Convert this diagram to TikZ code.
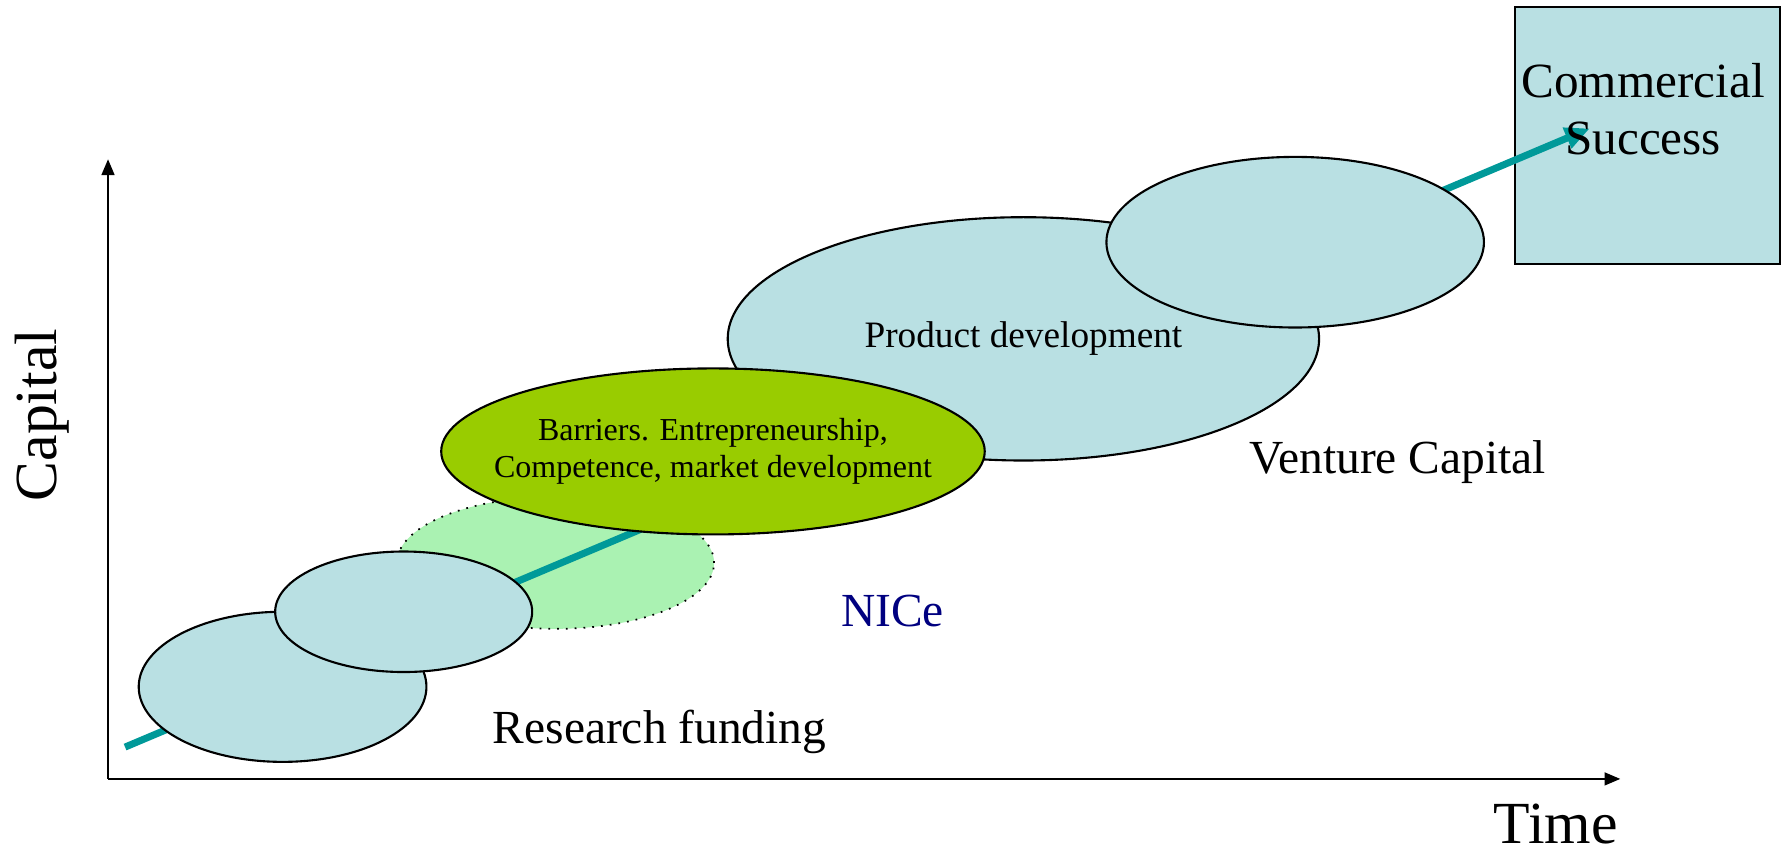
\documentclass[tikz,border=0pt]{standalone}
\usepackage{fontspec}
\setmainfont{Liberation Serif}
\usetikzlibrary{shapes.geometric,arrows.meta,positioning}
\definecolor{capblue}{HTML}{B9E0E3}
\definecolor{nicegreen}{HTML}{AAF2B2}
\definecolor{barrgreen}{HTML}{99CC00}
\definecolor{pathteal}{HTML}{009999}
\definecolor{nicenavy}{HTML}{000080}

\begin{document}
\begin{tikzpicture}[x=0.11371mm,y=-0.11371mm,
  bubble/.style={ellipse,draw,line width=0.6pt,fill=capblue,inner sep=0pt},
  axis/.style={line width=0.7pt,-{Triangle[length=4.5pt,width=3.6pt]}},
  lbl/.style={anchor=base,inner sep=0pt,font=\fontsize{13.5}{16}\selectfont}]
  \useasboundingbox (0,0) rectangle (1568,751);
  \draw[axis] (95,685) coordinate (o) -- (95,140) coordinate (ytop);
  \draw[axis] (o) -- (1425,685) coordinate (xend);
  \node[rotate=90,anchor=base,inner sep=0pt,font=\fontsize{17}{20}\selectfont] (cap) at (50,365) {Capital};
  \node[anchor=base,inner sep=0pt,font=\fontsize{17}{20}\selectfont] (time) at (1368,742) {Time};

  \node[draw,line width=0.6pt,fill=capblue,minimum width=26.49mm,minimum height=25.70mm,inner sep=0pt] (cs) at (1448.5,119) {};
  \node[ellipse,draw,dotted,line width=0.5pt,fill=nicegreen,minimum width=31.72mm,minimum height=13.19mm,inner sep=0pt] (nice) at (488.5,495) {};
  \coordinate (start) at (110,657);
  \coordinate (goal) at (1398,113);
  \draw[pathteal,line width=2pt,-{Triangle[length=7pt,width=6pt]}] (start) -- (goal);
  \node[bubble,minimum width=28.77mm,minimum height=15.01mm] (res1) at (248.5,604) {};
  \node[bubble,minimum width=25.70mm,minimum height=12.05mm] (res2) at (355,538) {};
  \node[bubble,minimum width=59.13mm,minimum height=24.33mm] (prod) at (900,298) {};
  \node[font=\fontsize{10.6}{12}\selectfont] (prodl) at (prod.center) {Product development};
  \node[bubble,minimum width=37.75mm,minimum height=17.06mm] (vc) at (1139,213) {};
  \node[bubble,fill=barrgreen,minimum width=54.35mm,minimum height=16.60mm] (barr) at (627,397) {};
  \node[align=center,font=\fontsize{9.1}{10.7}\selectfont] (barrl) at (barr.center) {Barriers. Entrepreneurship,\\Competence, market development};

  \node[anchor=north,inner sep=0pt,align=center,font=\fontsize{14}{16.2}\selectfont] (cstext) at (1445,55) {Commercial\\Success};
  \node[lbl] (resl) at (580,654) {Research funding};
  \node[lbl,text=nicenavy] (nicel) at (785,551) {NICe};
  \node[lbl] (vcl) at (1229,416) {Venture Capital};
\end{tikzpicture}
\end{document}
